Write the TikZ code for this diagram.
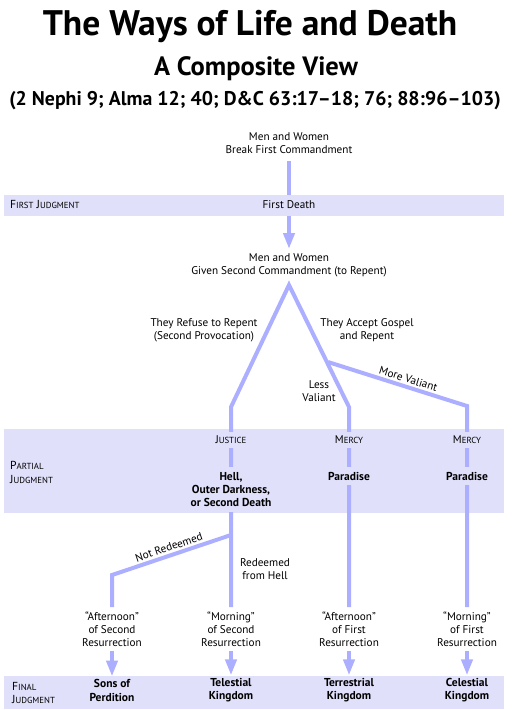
\documentclass[tikz,border=0pt]{standalone}
\usepackage{fontspec}
\setmainfont{PT Sans}
\usetikzlibrary{arrows.meta}
\definecolor{ln}{RGB}{172,174,255}
\definecolor{bd}{RGB}{224,224,250}
\newcommand\sk[2]{#1{\fontsize{8.8}{9}\selectfont #2}}
\tikzset{
  flow/.style={draw=ln, line width=4pt, line join=miter},
  arr/.style={flow, -{Triangle[length=16pt,width=11pt]}},
  txt/.style={align=center, font=\fontsize{11.2}{13}\selectfont, inner sep=0pt},
  btxt/.style={align=center, font=\fontsize{11.5}{13.2}\selectfont\bfseries, inner sep=0pt},
  mask/.style={fill=bd, inner ysep=5pt, inner xsep=2pt},
  band/.style={fill=bd, draw=none},
  side/.style={anchor=west, align=left, font=\fontsize{11.6}{14}\selectfont, inner sep=0pt},
  slab/.style={font=\fontsize{11.2}{13}\selectfont, inner sep=1pt}
}
\begin{document}
\begin{tikzpicture}[x=1pt,y=-1pt]
\useasboundingbox (0,0) rectangle (526,710);
% titles
\node[anchor=base, inner sep=0pt, font=\fontsize{35.5}{40}\selectfont\bfseries] (title) at (250,35) {The Ways of Life and Death};
\node[anchor=base, inner sep=0pt, font=\fontsize{26.5}{30}\selectfont\bfseries] (sub) at (256,75) {A Composite View};
\node[anchor=base, inner sep=0pt, font=\fontsize{19.8}{23}\selectfont\bfseries] (refs) at (255,105.5) {(2 Nephi 9; Alma 12; 40; D\&C 63:17–18; 76; 88:96–103)};
% bands
\fill[band] (4,194.5) rectangle (504,215.5);
\fill[band] (4,429) rectangle (504,512.5);
\fill[band] (4,676) rectangle (504,709);
% junction coordinates
\coordinate (a1) at (289,161);
\coordinate (a2) at (289,194.5);
\coordinate (b1) at (289,215.5);
\coordinate (b2) at (289,249);
\coordinate (apex) at (289,285);
\coordinate (lk) at (231,407);
\coordinate (lb) at (231,607);
\coordinate (rk) at (349,407);
\coordinate (rb) at (349,607);
\coordinate (br) at (328,362);
\coordinate (fk) at (467,406);
\coordinate (fb) at (467,607);
\coordinate (hb) at (231,535);
\coordinate (nk) at (112,575);
\coordinate (nb) at (112,607);
% connectors
\draw[flow] (a1) -- (a2);
\draw[arr] (b1) -- (b2);
\draw[flow] (lb) -- (lk) -- (apex) -- (rk) -- (rb);
\draw[flow] (br) -- (fk) -- (fb);
\draw[flow] (hb) -- (nk) -- (nb);
\path (nk) -- (hb) node[pos=0.5, sloped, above=3pt, slab] (nr) {Not Redeemed};
\path (br) -- (fk) node[pos=0.56, sloped, above=3pt, slab] (mv) {More Valiant};
% top texts
\node[txt] (n1) at (289,143.3) {Men and Women\\Break First Commandment};
\node[txt, fill=bd, minimum height=21pt, inner xsep=4pt] (fd) at (289,205) {First Death};
\node[side] (fj) at (10,204.5) {\sk{F}{IRST} \sk{J}{UDGMENT}};
\node[txt] (n2) at (289,265.5) {Men and Women\\Given Second Commandment (to Repent)};
\node[txt] (ref) at (204,330.5) {They Refuse to Repent\\(Second Provocation)};
\node[txt] (acc) at (367,330.5) {They Accept Gospel\\and Repent};
\node[txt] (lv) at (319,391.5) {Less\\Valiant};
% partial judgment
\node[side] (pj) at (10,472) {\sk{P}{ARTIAL}\\\sk{J}{UDGMENT}};
\node[txt, mask, inner ysep=4pt] (jus) at (231,440) {\sk{J}{USTICE}};
\node[txt, mask, inner ysep=4pt] (mer1) at (349,440) {\sk{M}{ERCY}};
\node[txt, mask, inner ysep=4pt] (mer2) at (467,440) {\sk{M}{ERCY}};
\node[btxt, mask] (hell) at (231,489.5) {Hell,\\Outer Darkness,\\or Second Death};
\node[btxt, mask] (par1) at (349,476) {Paradise};
\node[btxt, mask] (par2) at (467,476) {Paradise};
\node[txt] (rfh) at (265,569.5) {Redeemed\\from Hell};
% resurrections
\node[txt] (r1) at (112,629) {“Afternoon”\\of Second\\Resurrection};
\node[txt] (r2) at (231,629) {“Morning”\\of Second\\Resurrection};
\node[txt] (r3) at (349,629) {“Afternoon”\\of First\\Resurrection};
\node[txt] (r4) at (467,629) {“Morning”\\of First\\Resurrection};
% final kingdoms
\node[btxt] (k1) at (112,690.5) {Sons of\\Perdition};
\node[btxt] (k2) at (231,690.5) {Telestial\\Kingdom};
\node[btxt] (k3) at (349,690.5) {Terrestrial\\Kingdom};
\node[btxt] (k4) at (467,690.5) {Celestial\\Kingdom};
\node[side, font=\fontsize{11.6}{12.5}\selectfont] (fjl) at (12,693) {\sk{F}{INAL}\\\sk{J}{UDGMENT}};
% final arrows
\foreach \s/\t in {r1/k1,r2/k2,r3/k3,r4/k4}{
  \draw[arr] ([yshift=-4pt]\s.south) -- ([yshift=3pt]\t.north);
}
\end{tikzpicture}
\end{document}
